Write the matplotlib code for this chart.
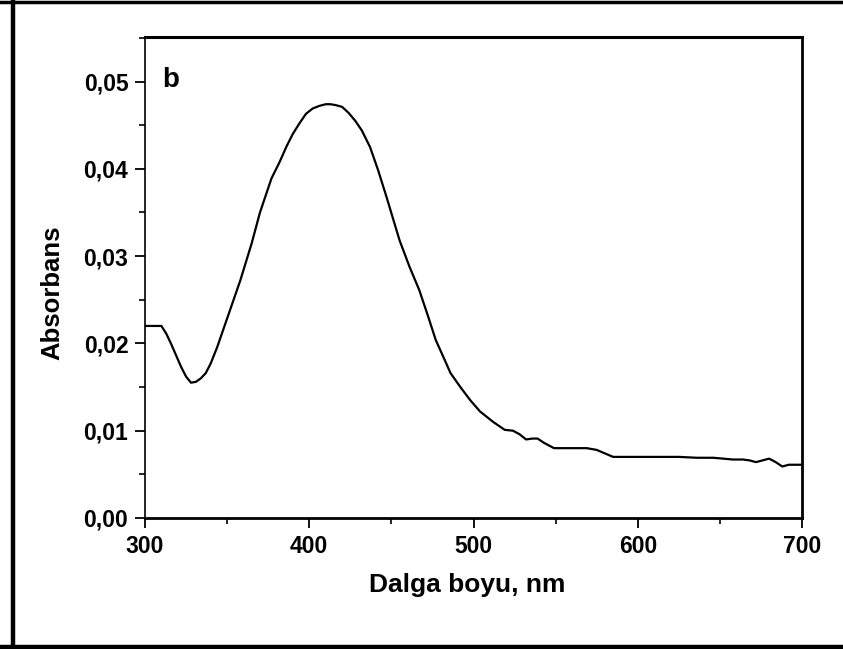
import matplotlib
matplotlib.use("Agg")
import matplotlib.pyplot as plt
from matplotlib.lines import Line2D
from matplotlib.ticker import MultipleLocator, FuncFormatter

# UV-Vis absorption spectrum (wavelength in nm, absorbance)
wavelength = [300, 305, 310, 313, 316, 319, 322, 325, 328, 331, 334, 337,
              340, 344, 351, 358, 365, 370, 377, 382, 386, 390, 394, 398,
              402, 406, 410, 413, 416, 420, 424, 428, 432, 437, 442, 447,
              455, 461, 467, 472, 477, 482, 486, 492, 498, 504, 512, 519,
              524, 528, 532, 536, 539, 543, 549, 560, 569, 575, 580, 585,
              600, 625, 636, 646, 652, 658, 664, 668, 672, 676, 680, 684,
              688, 692, 700]
absorbance = [0.0220, 0.0220, 0.0220, 0.0211, 0.0199, 0.0186, 0.0173, 0.0162,
              0.0155, 0.0156, 0.0160, 0.0166, 0.0177, 0.0196, 0.0234, 0.0272,
              0.0315, 0.0350, 0.0389, 0.0408, 0.0425, 0.0440, 0.0452, 0.0463,
              0.0469, 0.0472, 0.0474, 0.0474, 0.0473, 0.0471, 0.0464, 0.0455,
              0.0444, 0.0425, 0.0398, 0.0368, 0.0318, 0.0288, 0.0261, 0.0233,
              0.0204, 0.0183, 0.0166, 0.0150, 0.0135, 0.0122, 0.0110, 0.0101,
              0.0100, 0.0096, 0.0090, 0.0091, 0.0091, 0.0086, 0.0080, 0.0080,
              0.0080, 0.0078, 0.0074, 0.0070, 0.0070, 0.0070, 0.0069, 0.0069,
              0.0068, 0.0067, 0.0067, 0.0066, 0.0064, 0.0066, 0.0068, 0.0064,
              0.0059, 0.0061, 0.0061]

x_ticks = [300, 400, 500, 600, 700]
y_ticks = [0.00, 0.01, 0.02, 0.03, 0.04, 0.05]

plt.rcParams['font.family'] = ['Liberation Sans', 'DejaVu Sans']
plt.rcParams['font.weight'] = 'bold'

fig = plt.figure(figsize=(8.43, 6.49), dpi=100)
ax = fig.add_axes([145 / 843, 1 - 518 / 649, 657 / 843, 481 / 649])

ax.plot(wavelength, absorbance, color='black', lw=1.6, solid_joinstyle='round')

ax.set_xlim(300, 700)
ax.set_ylim(0, 0.0551)
ax.set_xticks(x_ticks)
ax.set_yticks(y_ticks)
ax.xaxis.set_minor_locator(MultipleLocator(50))
ax.yaxis.set_minor_locator(MultipleLocator(0.005))
ax.yaxis.set_major_formatter(FuncFormatter(lambda v, p: f"{v:.2f}".replace('.', ',')))

ax.tick_params(which='major', direction='out', length=7, width=1.3,
               labelsize=16.5, pad=5)
ax.tick_params(which='minor', direction='out', length=4.5, width=1.2)
ax.tick_params(top=False, right=False, which='both')
for lbl in ax.get_xticklabels() + ax.get_yticklabels():
    lbl.set_fontweight('bold')

ax.spines['left'].set_linewidth(1.2)
ax.spines['bottom'].set_linewidth(2.0)
ax.spines['top'].set_linewidth(2.2)
ax.spines['right'].set_linewidth(2.0)

ax.set_xlabel('Dalga boyu, nm', fontsize=19, fontweight='bold')
ax.set_ylabel('Absorbans', fontsize=18.5, fontweight='bold')
ax.xaxis.set_label_coords(0.49, -0.115)
ax.yaxis.set_label_coords(-0.122, 0.468)

ax.text(0.026, 0.9376, 'b', transform=ax.transAxes, fontsize=20,
        fontweight='bold', va='top', ha='left')

# outer frame around the figure
W, H = 843, 649
fig.add_artist(Line2D([13 / W, 13 / W], [0, 1], transform=fig.transFigure,
                      color='black', lw=3.2))
fig.add_artist(Line2D([0, 1], [1 - 1.5 / H, 1 - 1.5 / H], transform=fig.transFigure,
                      color='black', lw=2.5))
fig.add_artist(Line2D([0, 1], [2 / H, 2 / H], transform=fig.transFigure,
                      color='black', lw=3.2))

fig.savefig('out.png', dpi=100)
